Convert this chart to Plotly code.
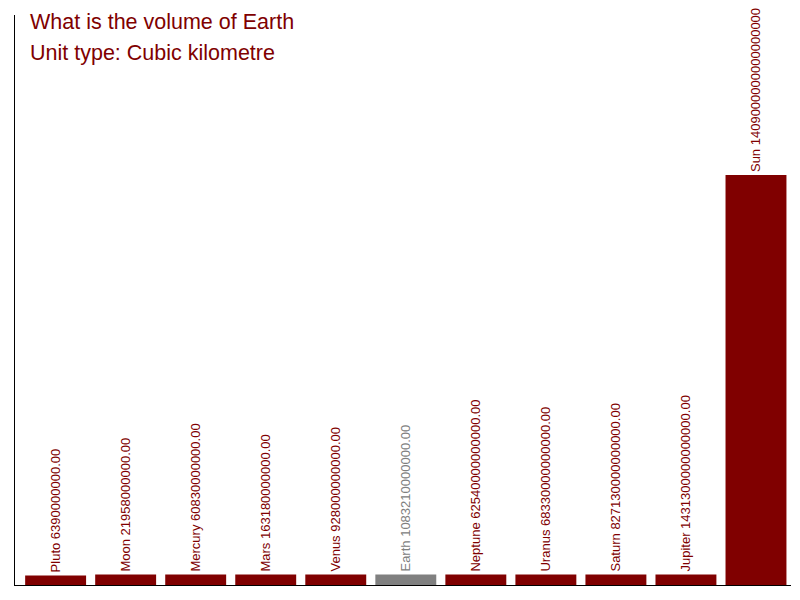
import plotly.graph_objects as go

# Volumes in cubic kilometres
bodies = ['Pluto', 'Moon', 'Mercury', 'Mars', 'Venus', 'Earth',
          'Neptune', 'Uranus', 'Saturn', 'Jupiter', 'Sun']
volumes = [6390000000, 21958000000, 60830000000, 163180000000, 928000000000,
           1083210000000, 62540000000000, 68330000000000, 827130000000000,
           1431300000000000, 1409000000000000000]
highlight = 'Earth'

# tiny bars still get a visible sliver, as in the original
floor = 3.6e16
shown = [max(v, floor) for v in volumes]
shown[0] = 3.3e16  # Pluto sits a touch lower
colors = ['#808080' if b == highlight else '#800000' for b in bodies]
labels = [f'{b} {v:.2f}' for b, v in zip(bodies, volumes)]

fig = go.Figure(go.Bar(
    x=list(range(len(bodies))), y=shown, marker_color=colors, marker_line_width=0,
    text=labels, textposition='outside', textangle=-90,
    textfont=dict(family='Liberation Sans', size=13, color=colors),
    constraintext='none', cliponaxis=False, hoverinfo='skip',
))

# page body adds ~8px offset, so margins are trimmed to match
fig.update_layout(
    width=800, height=600, margin=dict(l=7, r=17, t=7, b=23),
    plot_bgcolor='white', paper_bgcolor='white', bargap=0.13,
    showlegend=False, font=dict(family='Liberation Sans'),
    annotations=[
        dict(text='What is the volume of Earth', x=0.017, y=0.988, xref='paper', yref='paper',
             xanchor='left', yanchor='middle', showarrow=False,
             font=dict(size=21.5, color='#800000')),
        dict(text='Unit type: Cubic kilometre', x=0.017, y=0.933, xref='paper', yref='paper',
             xanchor='left', yanchor='middle', showarrow=False,
             font=dict(size=21.5, color='#800000')),
    ],
)
fig.update_xaxes(range=[-0.58, 10.5], showline=True, linecolor='black', linewidth=1,
                 showticklabels=False, ticks='', showgrid=False, zeroline=False)
fig.update_yaxes(range=[0, 1.959e18], showline=True, linecolor='black', linewidth=1,
                 showticklabels=False, ticks='', showgrid=False, zeroline=False)

fig.write_html("out.html")
